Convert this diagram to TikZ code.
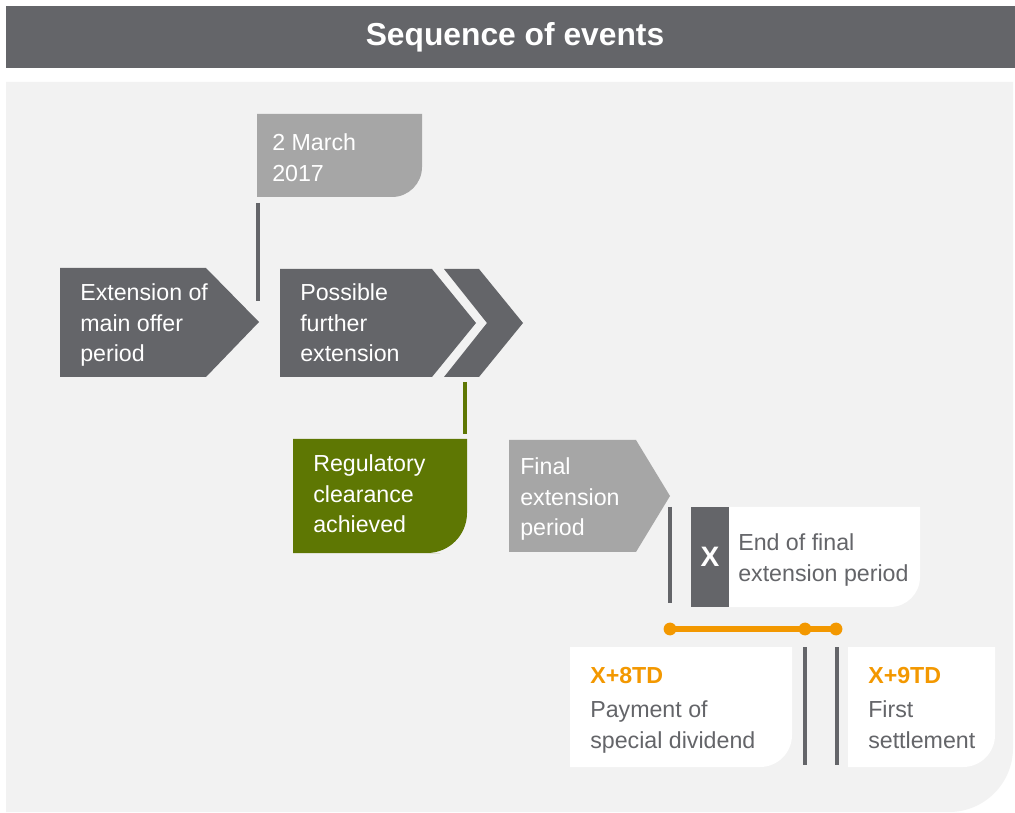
\documentclass[tikz,border=0pt]{standalone}
\usepackage{fontspec}
\setmainfont{Liberation Sans}
\usepackage{xcolor}
\definecolor{seqgrey}{RGB}{100,101,105}
\definecolor{seqlight}{RGB}{166,166,166}
\definecolor{seqpanel}{RGB}{242,242,242}
\definecolor{seqgreen}{RGB}{94,119,3}
\definecolor{seqorange}{RGB}{243,152,0}

\begin{document}
\begin{tikzpicture}[x=0.025cm, y=-0.025cm,
    evtext/.style={anchor=north west, align=left, inner sep=0pt, text=white,
                   font=\fontsize{16.5}{22}\selectfont},
    bar/.style={line width=0.1cm, seqgrey},
    timeline/.style={line width=0.15cm, seqorange}]
    % Canvas
    \useasboundingbox (0,0) rectangle (1015,813);
    \fill[white] (0,0) rectangle (1015,813);

    % Title bar
    \fill[seqgrey] (6,6) rectangle (1015,68);
    \node[font=\fontsize{22.6}{27}\selectfont\bfseries, text=white] (title) at (515,37) {Sequence of events};

    % Panel
    \fill[seqpanel] (6,82) -- (1013,82) -- (1013,700) [rounded corners=1.6cm] -- (1013,812) -- (900,812) [sharp corners] -- (6,812) -- cycle;

    % Date box
    \fill[seqlight] (257,114) -- (422,114) -- (422,150) [rounded corners=0.75cm] -- (422,197) -- (350,197) [sharp corners] -- (257,197) -- cycle;
    \node[evtext] (date) at (272,133) {2 March\\2017};
    \coordinate (datetop) at (258,203);
    \coordinate (datebot) at (258,301);
    \draw[bar] (datetop) -- (datebot);

    % Main offer arrows
    \fill[seqgrey] (60,268) -- (206,268) -- (259,322) -- (206,377) -- (60,377) -- cycle;
    \node[evtext] (mainoffer) at (80,283) {Extension of\\main offer\\period};
    \fill[seqgrey] (280,269) -- (432,269) -- (476,323) -- (432,377) -- (280,377) -- cycle;
    \fill[seqgrey] (444,269) -- (479,269) -- (523,323) -- (479,377) -- (444,377) -- (487,323) -- cycle;
    \node[evtext] (further) at (300,283) {Possible\\further\\extension};

    % Regulatory clearance
    \coordinate (greentop) at (465,382);
    \coordinate (greenbot) at (465,434);
    \draw[bar, seqgreen] (greentop) -- (greenbot);
    \fill[seqgreen] (293,439) -- (467,439) -- (467,480) [rounded corners=1cm] -- (467,553) -- (400,553) [sharp corners] -- (293,553) -- cycle;
    \node[evtext] (clearance) at (313,454) {Regulatory\\clearance\\achieved};

    % Final extension
    \fill[seqlight] (509,440) -- (636,440) -- (670,496) -- (636,552) -- (509,552) -- cycle;
    \node[evtext] (final) at (520,457) {Final\\extension\\period};
    \coordinate (xtop) at (670,507);
    \coordinate (xbot) at (670,603);
    \draw[bar] (xtop) -- (xbot);

    % End of final extension period
    \fill[white] (729,507) -- (920,507) -- (920,560) [rounded corners=0.75cm] -- (920,607) -- (850,607) [sharp corners] -- (729,607) -- cycle;
    \fill[seqgrey] (691,507) rectangle (729,607);
    \node[font=\fontsize{20}{24}\selectfont\bfseries, text=white] (xday) at (710,557) {X};
    \node[evtext, text=seqgrey] (endfinal) at (738,533) {End of final\\extension period};

    % Timeline
    \coordinate (t0) at (670,629);
    \coordinate (t8) at (805,629);
    \coordinate (t9) at (836,629);
    \draw[timeline] (t0) -- (t9);
    \foreach \p in {t0,t8,t9} {
        \fill[seqorange] (\p) circle (0.16cm);
    }

    % Settlement boxes
    \fill[white] (570,647) -- (792,647) -- (792,700) [rounded corners=0.8cm] -- (792,767) -- (700,767) [sharp corners] -- (570,767) -- cycle;
    \fill[white] (848,647) -- (995,647) -- (995,700) [rounded corners=0.8cm] -- (995,767) -- (920,767) [sharp corners] -- (848,767) -- cycle;
    \draw[bar] (805,647) -- (805,765);
    \draw[bar] (837,647) -- (837,765);
    \node[evtext, text=seqgrey] (dividend) at (590,667) {\textcolor{seqorange}{\textbf{X+8TD}}\\[2pt]Payment of\\special dividend};
    \node[evtext, text=seqgrey] (settle) at (868,667) {\textcolor{seqorange}{\textbf{X+9TD}}\\[2pt]First\\settlement};
\end{tikzpicture}
\end{document}
